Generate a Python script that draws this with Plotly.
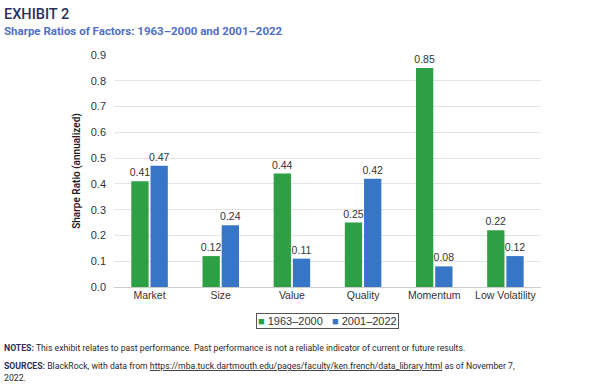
import plotly.graph_objects as go

categories = ["Market", "Size", "Value", "Quality", "Momentum", "Low Volatility"]
series_names = ["1963–2000", "2001–2022"]
vals_1963_2000 = [0.41, 0.12, 0.44, 0.25, 0.85, 0.22]
vals_2001_2022 = [0.47, 0.24, 0.11, 0.42, 0.08, 0.12]
tick_vals = [0.0, 0.1, 0.2, 0.3, 0.4, 0.5, 0.6, 0.7, 0.8, 0.9]

GREEN = "#2e9f44"
BLUE = "#3776c6"
NAVY = "#2a2f5c"
FONT = "Liberation Sans"
W, H = 614, 386
L, R, T, B = 114, 73, 55, 99
PW, PH = W - L - R, H - T - B

def px(x):
    return (x - L) / PW

def py(y):
    return 1 - (y - T) / PH

fig = go.Figure()
for name, vals, col in [(series_names[0], vals_1963_2000, GREEN), (series_names[1], vals_2001_2022, BLUE)]:
    fig.add_trace(go.Bar(
        x=categories, y=vals, name=name, marker=dict(color=col, line=dict(width=0)),
        text=[f"{v:.2f}" for v in vals], textposition="outside", constraintext="none",
        textfont=dict(family=FONT, size=10.5, color="#333333"), cliponaxis=False,
    ))

fig.update_layout(
    width=W, height=H,
    margin=dict(l=L, r=R, t=T, b=B),
    paper_bgcolor="white", plot_bgcolor="white",
    barmode="group", bargap=0.46, bargroupgap=0.1,
    font=dict(family=FONT, color="#333333"),
    showlegend=False,
    xaxis=dict(showgrid=False, showline=False, ticks="",
               tickfont=dict(family=FONT, size=10.5, color="#333333")),
    yaxis=dict(range=[0, 0.9], tickvals=tick_vals, tickformat=".1f",
               showgrid=True, gridcolor="#e3e3e3", gridwidth=1,
               zeroline=True, zerolinecolor="#cccccc", zerolinewidth=1,
               showline=False, ticks="", ticklabelstandoff=7,
               tickfont=dict(family=FONT, size=11, color="#333333"),
               title=dict(text="Sharpe Ratio (annualized)", standoff=8,
                          font=dict(family="Roboto", size=10, color="#1f1f1f", weight=600))),
)

# legend box
legend_text = (f"<span style='color:{GREEN}'>■</span> {series_names[0]}   "
               f"<span style='color:{BLUE}'>■</span> {series_names[1]}")
fig.add_annotation(xref="paper", yref="paper", x=px(327.5), y=py(321), xanchor="center", yanchor="middle",
                   text=legend_text, showarrow=False, bordercolor="#555555", borderwidth=1, borderpad=1,
                   font=dict(family=FONT, size=11, color="#333333"))

fig.add_annotation(xref="paper", yref="paper", x=px(2), y=py(14), xanchor="left", yanchor="middle",
                   text="EXHIBIT 2", showarrow=False,
                   font=dict(family="Roboto", size=14.5, color=NAVY, weight=500))
fig.add_annotation(xref="paper", yref="paper", x=px(2), y=py(31), xanchor="left", yanchor="middle",
                   text="<b>Sharpe Ratios of Factors: 1963–2000 and 2001–2022</b>", showarrow=False,
                   font=dict(family="Roboto", size=11.5, color="#4f6fc2"))
fig.add_annotation(xref="paper", yref="paper", x=px(2), y=py(348), xanchor="left", yanchor="middle",
                   text=f"<b><span style='color:{NAVY}'>NOTES:</span></b> This exhibit relates to past performance. Past performance is not a reliable indicator of current or future results.",
                   showarrow=False, font=dict(family="Roboto", size=8.7, color="#2a2a2a"))
fig.add_annotation(xref="paper", yref="paper", x=px(2), y=py(366), xanchor="left", yanchor="middle",
                   text=f"<b><span style='color:{NAVY}'>SOURCES:</span></b> BlackRock, with data from <u>https://mba.tuck.dartmouth.edu/pages/faculty/ken.french/data_library.html</u> as of November 7,",
                   showarrow=False, font=dict(family="Roboto", size=8.7, color="#2a2a2a"))
fig.add_annotation(xref="paper", yref="paper", x=px(2), y=py(378), xanchor="left", yanchor="middle",
                   text="2022.", showarrow=False, font=dict(family="Roboto", size=8.7, color="#2a2a2a"))

fig.write_html("out.html", config={"displayModeBar": False},
               post_script="document.body.style.margin='0px';document.body.style.overflow='hidden';")
